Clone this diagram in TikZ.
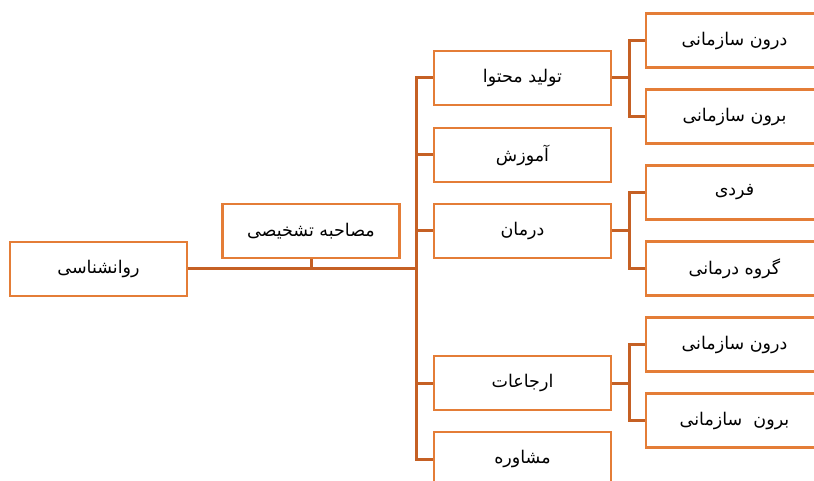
\documentclass[tikz,border=0pt]{standalone}
\usepackage{fontspec}
\newfontfamily\arabicfont[Script=Arabic]{DejaVu Sans}
\TeXXeTstate=1
\definecolor{boxc}{RGB}{228,125,55}
\definecolor{linec}{RGB}{197,96,36}
\tikzset{
  box/.style={draw=boxc, line width=2.8pt, fill=white, minimum width=177pt, minimum height=54pt, inner sep=0pt, font=\arabicfont\fontsize{17.5}{20}\selectfont},
  conn/.style={draw=linec, line width=3pt, line join=miter}
}
\newcommand{\rl}[1]{\beginR #1\endR}
\begin{document}
\begin{tikzpicture}[x=1pt,y=-1pt]
\useasboundingbox (0,0) rectangle (814,481);
\clip (0,0) rectangle (814,481);
% level 0/1
\node[box] (root) at (98.5,269) {\rl{روانشناسی}};
\node[box] (diag) at (311,231) {\rl{مصاحبه تشخیصی}};
% level 2
\node[box] (l1) at (522.5,78) {\rl{تولید محتوا}};
\node[box] (l2) at (522.5,155) {\rl{آموزش}};
\node[box] (l3) at (522.5,231) {\rl{درمان}};
\node[box] (l4) at (522.5,383) {\rl{ارجاعات}};
\node[box] (l5) at (522.5,459) {\rl{مشاوره}};
% level 3
\node[box] (s1) at (734.5,40.5) {\rl{درون سازمانی}};
\node[box] (s2) at (734.5,116.5) {\rl{برون سازمانی}};
\node[box] (s3) at (734.5,192.5) {\rl{فردی}};
\node[box] (s4) at (734.5,268.5) {\rl{گروه درمانی}};
\node[box] (s5) at (734.5,344.5) {\rl{درون سازمانی}};
\node[box] (s6) at (734.5,420.5) {\rl{برون~~سازمانی}};
% connectors
\coordinate (j) at (416,268);
\draw[conn] (root.east |- j) -- (j);
\draw[conn] (diag.south) -- (diag.south |- j);
\draw[conn] (l1.west) -- (l1.west -| j) -- (l5.west -| j) -- (l5.west);
\draw[conn] (l2.west) -- (l2.west -| j);
\draw[conn] (l3.west) -- (l3.west -| j);
\draw[conn] (l4.west) -- (l4.west -| j);
\coordinate (k) at (629,0);
\draw[conn] (l1.east) -- (l1.east -| k);
\draw[conn] (s1.west) -- (s1.west -| k) -- (s2.west -| k) -- (s2.west);
\draw[conn] (l3.east) -- (l3.east -| k);
\draw[conn] (s3.west) -- (s3.west -| k) -- (s4.west -| k) -- (s4.west);
\draw[conn] (l4.east) -- (l4.east -| k);
\draw[conn] (s5.west) -- (s5.west -| k) -- (s6.west -| k) -- (s6.west);
\end{tikzpicture}
\end{document}
